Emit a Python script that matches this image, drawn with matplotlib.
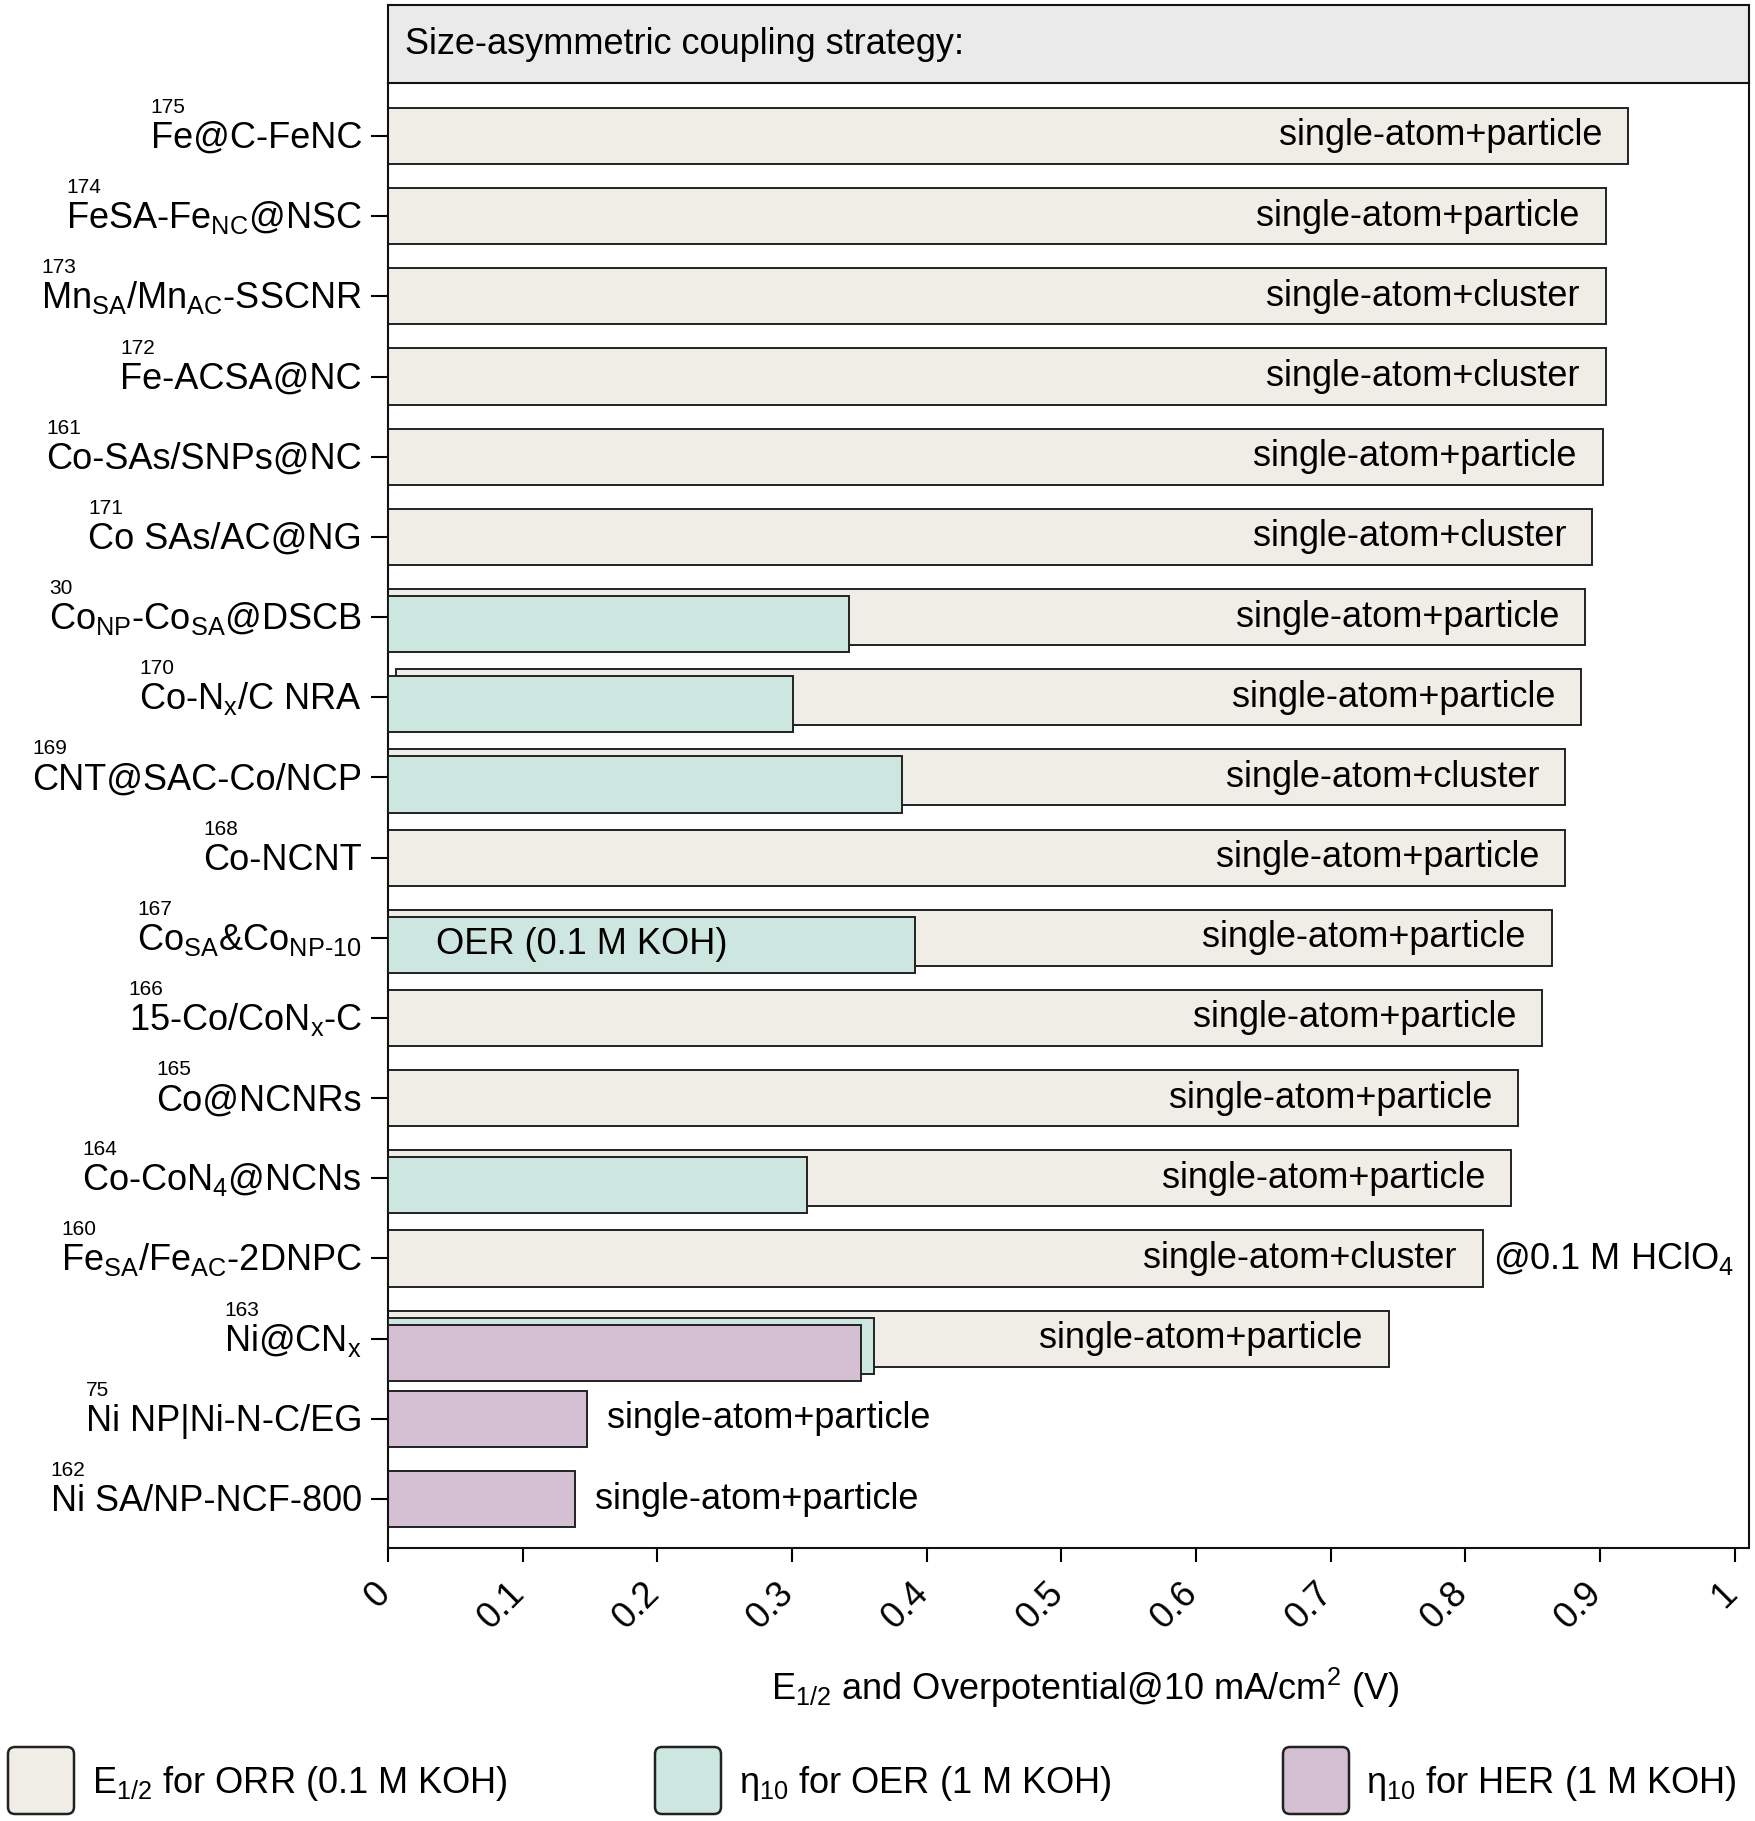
import matplotlib
matplotlib.use("Agg")
import matplotlib.pyplot as plt
from matplotlib.patches import FancyBboxPatch
from matplotlib.transforms import ScaledTranslation
import numpy as np

# ---------------- data ----------------
catalysts = [
    "Fe@C-FeNC",
    r"FeSA-Fe$_{\mathrm{NC}}$@NSC",
    r"Mn$_{\mathrm{SA}}$/Mn$_{\mathrm{AC}}$-SSCNR",
    "Fe-ACSA@NC",
    "Co-SAs/SNPs@NC",
    "Co SAs/AC@NG",
    r"Co$_{\mathrm{NP}}$-Co$_{\mathrm{SA}}$@DSCB",
    r"Co-N$_{\mathrm{x}}$/C NRA",
    "CNT@SAC-Co/NCP",
    "Co-NCNT",
    r"Co$_{\mathrm{SA}}$&Co$_{\mathrm{NP\text{-}10}}$",
    r"15-Co/CoN$_{\mathrm{x}}$-C",
    "Co@NCNRs",
    r"Co-CoN$_{\mathrm{4}}$@NCNs",
    r"Fe$_{\mathrm{SA}}$/Fe$_{\mathrm{AC}}$-2DNPC",
    r"Ni@CN$_{\mathrm{x}}$",
    "Ni NP|Ni-N-C/EG",
    "Ni SA/NP-NCF-800",
]
refs = ["175", "174", "173", "172", "161", "171", "30", "170", "169", "168",
        "167", "166", "165", "164", "160", "163", "75", "162"]
orr_e12 = [0.921, 0.904, 0.904, 0.904, 0.902, 0.894, 0.889, 0.886, 0.874, 0.874,
           0.864, 0.857, 0.839, 0.834, 0.813, 0.743, None, None]
orr_start = [0, 0, 0, 0, 0, 0, 0, 0.006, 0, 0, 0, 0, 0, 0, 0, 0, 0, 0]
oer_eta10 = [None, None, None, None, None, None, 0.342, 0.301, 0.382, None,
             0.391, None, None, 0.311, None, 0.361, None, None]
her_eta10 = [None] * 15 + [0.351, 0.148, 0.139]
strategy = ["single-atom+particle", "single-atom+particle", "single-atom+cluster",
            "single-atom+cluster", "single-atom+particle", "single-atom+cluster",
            "single-atom+particle", "single-atom+particle", "single-atom+cluster",
            "single-atom+particle", "single-atom+particle", "single-atom+particle",
            "single-atom+particle", "single-atom+particle", "single-atom+cluster",
            "single-atom+particle", "single-atom+particle", "single-atom+particle"]
xticks = [0, 0.1, 0.2, 0.3, 0.4, 0.5, 0.6, 0.7, 0.8, 0.9, 1]
xticklabels = ["0", "0.1", "0.2", "0.3", "0.4", "0.5", "0.6", "0.7", "0.8", "0.9", "1"]
legend_labels = [r"E$_{\mathrm{1/2}}$ for ORR (0.1 M KOH)",
                 r"η$_{\mathrm{10}}$ for OER (1 M KOH)",
                 r"η$_{\mathrm{10}}$ for HER (1 M KOH)"]

# ---------------- style ----------------
plt.rcParams["font.family"] = ["Liberation Sans", "DejaVu Sans"]
plt.rcParams["mathtext.fontset"] = "custom"
plt.rcParams["mathtext.rm"] = "Liberation Sans"
plt.rcParams["mathtext.it"] = "Liberation Sans:italic"
plt.rcParams["mathtext.bf"] = "Liberation Sans:bold"

C_ORR = "#EFEDE5"
C_OER = "#CDE7E0"
C_HER = "#D4BFD3"
EDGE = "#222222"
FS = 26

W, H = 1755, 1821
DPI = 100
fig = plt.figure(figsize=(W / DPI, H / DPI), dpi=DPI)

def fx(px):
    return px / W

def fy(py):
    return 1 - py / H

ax_l, ax_r, ax_t, ax_b = 388, 1749, 83, 1548
ax = fig.add_axes([fx(ax_l), fy(ax_b), fx(ax_r - ax_l), (ax_b - ax_t) / H])

n = len(catalysts)
ypos = np.arange(n)
bh = 0.70
shift = 0.088

for i in range(n):
    k = 0
    for vals, col, start in ((orr_e12, C_ORR, orr_start[i]), (oer_eta10, C_OER, 0),
                             (her_eta10, C_HER, 0)):
        v = vals[i]
        if v is None:
            continue
        ax.barh(ypos[i] + k * shift, v - start, left=start, height=bh, color=col,
                edgecolor=EDGE, linewidth=1.4, zorder=2 + k)
        k += 1

def pt_off(dx, dy):
    return ScaledTranslation(dx / DPI, dy / DPI, fig.dpi_scale_trans)

# strategy labels
for i in range(n):
    if orr_e12[i] is not None:
        ax.text(orr_e12[i], ypos[i], strategy[i], ha="right", va="center",
                fontsize=FS, zorder=10,
                transform=ax.transData + pt_off(-26, 0))
    else:
        ax.text(her_eta10[i], ypos[i], strategy[i], ha="left", va="center",
                fontsize=FS, zorder=10,
                transform=ax.transData + pt_off(20, 0))

# extra annotations
i_oer = 10
ax.text(0, ypos[i_oer] + shift, "OER (0.1 M KOH)", ha="left", va="center",
        fontsize=FS, zorder=10, transform=ax.transData + pt_off(48, 0))
i_hcl = 14
ax.text(orr_e12[i_hcl], ypos[i_hcl], r"@0.1 M HClO$_{\mathrm{4}}$", ha="left",
        va="center", fontsize=FS, zorder=10, transform=ax.transData + pt_off(10, 0))

ax.set_xlim(0, 1.0105)
ax.set_ylim(n - 1 + 0.611, -0.661)
ax.set_yticks(ypos)
ax.set_yticklabels([""] * n)
ax.tick_params(axis="x", direction="out", length=10, width=1.5, pad=10, colors="black")
ax.tick_params(axis="y", direction="out", length=12, width=1.5)
ax.set_xticks(xticks)
ax.set_xticklabels(xticklabels, rotation=45, ha="right", va="top", fontsize=FS)
for lbl in ax.get_xticklabels():
    lbl.set_transform(lbl.get_transform() + pt_off(9, 0))
for s in ["left", "bottom", "right"]:
    ax.spines[s].set_linewidth(1.5)
    ax.spines[s].set_color("#111111")
ax.spines["top"].set_visible(False)

# y labels (custom text, baseline below tick)
ylab = []
for i in range(n):
    t = ax.text(0, ypos[i], catalysts[i], ha="right", va="baseline", fontsize=FS,
                transform=ax.get_yaxis_transform() + pt_off(-26, -12))
    ylab.append(t)

# header strip
hax = fig.add_axes([fx(ax_l), fy(ax_t), fx(ax_r - ax_l), (ax_t - 5) / H])
hax.set_facecolor("#EAEAEA")
hax.set_xticks([])
hax.set_yticks([])
for s in hax.spines.values():
    s.set_linewidth(1.5)
    s.set_color("#111111")
hax.text(0, 0.5, "Size-asymmetric coupling strategy:",
         ha="left", va="center", fontsize=FS,
         transform=hax.transAxes + pt_off(17, 0))

# x label
fig.text(fx(1085), fy(1700), r"E$_{\mathrm{1/2}}$ and Overpotential@10 mA/cm$^{\mathrm{2}}$ (V)",
         ha="center", va="baseline", fontsize=FS)

# legend (manual)
leg_cols = [C_ORR, C_OER, C_HER]
leg_px = [8, 655, 1283]
leg_txt_px = [92, 739, 1366]
for c, px, tx, lab in zip(leg_cols, leg_px, leg_txt_px, legend_labels):
    p = FancyBboxPatch((fx(px), fy(1814)), fx(66), (1814 - 1747) / H,
                       boxstyle="round,pad=0,rounding_size=0.004",
                       transform=fig.transFigure, facecolor=c, edgecolor=EDGE,
                       linewidth=1.8, mutation_aspect=W / H)
    fig.add_artist(p)
    fig.text(fx(tx), fy(1793), lab, ha="left", va="baseline", fontsize=FS)

# reference numbers above label starts
fig.canvas.draw()
r = fig.canvas.get_renderer()
for i, t in enumerate(ylab):
    bb = t.get_window_extent(renderer=r)
    ydisp = ax.transData.transform((0, ypos[i]))[1]
    fig.text(bb.x0 / W, (ydisp + 23) / H, refs[i], ha="left", va="baseline",
             fontsize=15)

fig.savefig("out.png", dpi=DPI)
